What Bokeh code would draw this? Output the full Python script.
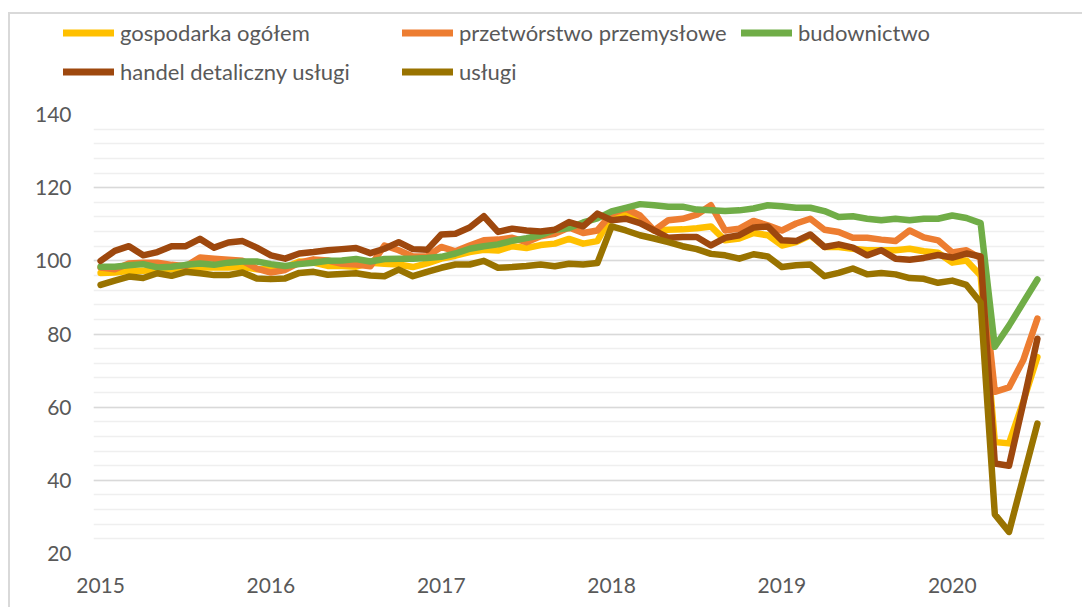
from bokeh.plotting import figure
from bokeh.layouts import column, row
from bokeh.models import Legend, LegendItem, FixedTicker, SingleIntervalTicker, Range1d
from bokeh.embed import file_html
from bokeh.resources import INLINE

# Monthly index: 0 = Jan 2015 ... 66 = Jul 2020
months = list(range(67))
year_ticks = [0, 12, 24, 36, 48, 60]
year_labels = ["2015", "2016", "2017", "2018", "2019", "2020"]

series_names = ["gospodarka ogółem", "przetwórstwo przemysłowe", "budownictwo",
                "handel detaliczny usługi", "usługi"]

gospodarka = [96.7, 96.8, 97.3, 97.3, 97.5, 97.7, 98.0, 98.2, 98.2, 98.2, 98.4, 97.7,
              97.7, 98.2, 99.8, 99.5, 98.6, 98.6, 98.4, 99.5, 99.2, 99.0, 98.3, 99.3,
              100.6, 101.4, 102.4, 103.0, 102.8, 104.0, 103.5, 104.3, 104.7, 106.0, 104.7, 105.4,
              112.4, 112.9, 110.6, 108.3, 108.5, 108.6, 108.9, 109.4, 105.6, 106.1, 107.6, 107.0,
              104.2, 105.1, 107.0, 103.8, 103.8, 103.3, 102.9, 102.9, 102.9, 103.3, 102.6, 102.2,
              99.5, 100.1, 96.0, 50.5, 50.1, 61.5, 73.7]

przetworstwo = [98.2, 97.7, 99.3, 99.5, 99.5, 98.9, 98.5, 100.9, 100.6, 100.3, 100.0, 97.9,
                96.8, 97.5, 99.5, 100.4, 100.1, 99.2, 99.0, 98.5, 104.2, 102.9, 101.2, 101.2,
                103.8, 102.6, 104.2, 105.6, 105.8, 106.3, 105.1, 106.7, 107.4, 109.1, 107.6, 108.3,
                112.9, 114.3, 112.4, 108.3, 111.1, 111.5, 112.6, 115.2, 108.3, 108.8, 110.9, 109.7,
                108.3, 110.2, 111.5, 108.5, 107.9, 106.3, 106.3, 105.8, 105.4, 108.3, 106.4, 105.6,
                102.3, 102.9, 100.7, 64.2, 65.4, 72.8, 84.2]

budownictwo = [98.4, 98.4, 98.8, 99.1, 98.2, 98.4, 98.9, 99.3, 98.9, 99.5, 99.8, 99.8,
               99.1, 98.6, 99.1, 99.5, 100.0, 100.1, 100.5, 99.8, 100.5, 100.6, 100.6, 100.8,
               101.1, 102.0, 103.3, 104.0, 104.5, 105.5, 106.2, 107.0, 108.5, 109.0, 110.5, 111.6,
               113.5, 114.5, 115.5, 115.2, 114.8, 114.8, 114.0, 113.8, 113.6, 113.8, 114.3, 115.2,
               114.9, 114.5, 114.5, 113.6, 112.0, 112.2, 111.5, 111.1, 111.5, 111.1, 111.5, 111.5,
               112.4, 111.7, 110.3, 76.5, 82.3, 88.6, 94.9]

handel = [100.0, 102.7, 104.0, 101.5, 102.4, 104.0, 104.0, 106.0, 103.6, 105.0, 105.4, 103.6,
          101.5, 100.6, 102.0, 102.4, 102.9, 103.2, 103.5, 102.1, 103.3, 105.1, 103.2, 103.0,
          107.2, 107.4, 109.1, 112.2, 107.9, 108.8, 108.3, 108.0, 108.5, 110.6, 109.4, 112.9,
          111.1, 111.5, 110.3, 108.3, 106.3, 106.5, 106.5, 104.2, 106.3, 107.0, 109.1, 109.4,
          105.6, 105.4, 107.2, 103.8, 104.5, 103.6, 101.5, 102.9, 100.6, 100.3, 100.8, 101.6,
          100.9, 102.0, 101.2, 44.6, 44.0, 61.0, 78.7]

uslugi = [93.4, 94.6, 95.7, 95.3, 96.6, 95.9, 97.0, 96.6, 96.1, 96.1, 96.8, 95.2,
          95.0, 95.2, 96.7, 97.0, 96.2, 96.4, 96.6, 96.0, 95.8, 97.6, 95.8, 97.0,
          98.1, 99.0, 99.0, 100.0, 98.1, 98.3, 98.6, 99.0, 98.5, 99.2, 99.0, 99.4,
          109.4, 108.3, 107.0, 106.1, 105.1, 104.0, 103.2, 101.9, 101.5, 100.6, 101.8, 101.2,
          98.3, 98.8, 99.0, 95.8, 96.7, 97.9, 96.3, 96.7, 96.3, 95.3, 95.1, 94.0,
          94.6, 93.4, 88.6, 30.7, 25.9, 40.7, 55.5]

colors = ["#FFC000", "#ED7D31", "#70AD47", "#9E480E", "#997300"]
all_series = [gospodarka, przetworstwo, budownictwo, handel, uslugi]

FONT = "Lato"
TXT = "#595959"
LW = 6.5

# ---- main chart ----
p = figure(width=1072, height=507, output_backend="svg", toolbar_location=None,
           x_range=Range1d(-0.5, 66.5), y_range=Range1d(20, 140),
           min_border_left=83, min_border_right=38, min_border_top=14, min_border_bottom=54)
p.outline_line_color = None
p.background_fill_color = "white"
p.border_fill_color = "white"

for ys, c in zip(all_series, colors):
    p.line(months, ys, line_color=c, line_width=LW, line_join="round", line_cap="round")

p.xaxis.ticker = FixedTicker(ticks=year_ticks)
p.xaxis.major_label_overrides = {t: l for t, l in zip(year_ticks, year_labels)}
p.yaxis.ticker = SingleIntervalTicker(interval=20, num_minor_ticks=5)
for ax in (p.xaxis[0], p.yaxis[0]):
    ax.axis_line_color = None
    ax.major_tick_line_color = None
    ax.minor_tick_line_color = None
    ax.major_label_text_font = FONT
    ax.major_label_text_font_size = "21px"
    ax.major_label_text_color = TXT
p.xaxis.major_label_standoff = 18
p.yaxis.major_label_standoff = 16

p.xgrid.grid_line_color = None
p.ygrid.grid_line_color = "#d9d9d9"
p.ygrid.grid_line_width = 1.5
p.ygrid.minor_grid_line_color = "#efefef"
p.ygrid.minor_grid_line_width = 1.5

# ---- legend strip (same series, drawn outside its visible range) ----
lg = figure(width=1072, height=86, output_backend="svg", toolbar_location=None,
            x_axis_location=None, y_axis_location=None,
            x_range=Range1d(-0.5, 66.5), y_range=Range1d(0, 1),
            min_border_left=0, min_border_right=0, min_border_top=0, min_border_bottom=0)
lg.outline_line_color = None
lg.grid.visible = False
lg.background_fill_color = "white"
lg.border_fill_color = "white"

leg_renderers = []
for ys, c in zip(all_series, colors):
    r = lg.line(months, ys, line_color=c, line_width=7, line_join="round", line_cap="round")
    leg_renderers.append(r)

items = [LegendItem(label=n, renderers=[r]) for n, r in zip(series_names, leg_renderers)]
legend = Legend(items=items, orientation="horizontal", ncols=3,
                location=(53, 9),
                glyph_width=51, glyph_height=39, label_height=39, label_width=282,
                label_standoff=6, spacing=0, padding=0, margin=0,
                label_text_font=FONT, label_text_font_size="22px", label_text_color=TXT,
                border_line_color=None, background_fill_alpha=0)
lg.add_layout(legend, "center")

layout = column(row(lg), p, spacing=0)
layout.styles = {"border-left": "2px solid #d9d9d9", "border-top": "2px solid #d9d9d9",
                 "margin-top": "12px", "margin-left": "8px"}

open("out.html", "w").write(file_html(layout, INLINE))
